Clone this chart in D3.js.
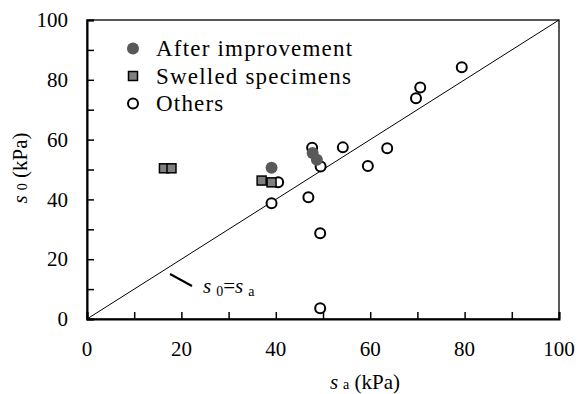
<!DOCTYPE html>
<html><head><meta charset="utf-8">
<script src="https://cdn.jsdelivr.net/npm/d3@7"></script>
<style>body{margin:0;background:#fff}svg{display:block}text{font-family:"Liberation Serif","Times New Roman",serif;fill:#000}</style>
</head><body><svg id="c" width="583" height="394"></svg>
<script>
const othersX = [47.7, 54.2, 49.5, 59.5, 63.6, 70.6, 69.7, 79.4, 46.9, 39.1, 40.5, 49.4, 49.4];
const othersY = [57.3, 57.4, 51.0, 51.2, 57.1, 77.4, 73.8, 84.2, 40.7, 38.7, 45.7, 28.7, 3.6];
const swelledX = [16.3, 17.9, 37.0, 39.1];
const swelledY = [50.4, 50.4, 46.3, 45.7];
const improvedX = [39.1, 47.8, 48.7];
const improvedY = [50.6, 55.5, 53.3];
const majorTicks = [0, 20, 40, 60, 80, 100];
const minorTicks = [10, 30, 50, 70, 90];
const legendLabels = ["After improvement", "Swelled specimens", "Others"];

const svg = d3.select("#c");
const x = d3.scaleLinear().domain([0, 100]).range([87, 559]);
const y = d3.scaleLinear().domain([0, 100]).range([319, 20]);
const FS = 21;

svg.append("rect").attr("x", x(0)).attr("y", y(100)).attr("width", x(100) - x(0)).attr("height", y(0) - y(100))
  .attr("fill", "none").attr("stroke", "#000").attr("stroke-width", 1.3);

const allTicks = majorTicks.concat(minorTicks);
const xAxis = svg.append("g").attr("transform", `translate(0,${y(0)})`)
  .call(d3.axisBottom(x).tickValues(allTicks).tickSize(-7).tickFormat(""));
const yAxis = svg.append("g").attr("transform", `translate(${x(0)},0)`)
  .call(d3.axisLeft(y).tickValues(allTicks).tickSize(-7).tickFormat(""));
[xAxis, yAxis].forEach(g => {
  g.select(".domain").attr("stroke", "#000").attr("stroke-width", 2);
  g.selectAll(".tick line").attr("stroke", "#000").attr("stroke-width", 1.5);
});
svg.append("g").selectAll("text").data(majorTicks).join("text")
  .attr("x", d => x(d)).attr("y", 356).attr("text-anchor", "middle")
  .attr("font-size", FS).text(d => d);
svg.append("g").selectAll("text").data(majorTicks).join("text")
  .attr("x", 68).attr("y", d => y(d)).attr("dy", "0.34em").attr("text-anchor", "end")
  .attr("font-size", FS).text(d => d);

const xt = svg.append("text").attr("x", 365).attr("y", 389).attr("text-anchor", "middle").attr("font-size", FS);
xt.append("tspan").attr("font-style", "italic").text("s");
xt.append("tspan").attr("font-size", 14).attr("dx", 5).text("a");
xt.append("tspan").text(" (kPa)");
const yt = svg.append("text").attr("transform", `translate(27,168) rotate(-90)`).attr("text-anchor", "middle").attr("font-size", FS);
yt.append("tspan").attr("font-style", "italic").text("s");
yt.append("tspan").attr("font-size", 14).attr("dx", 5).text("0");
yt.append("tspan").text(" (kPa)");

svg.append("line").attr("x1", x(0)).attr("y1", y(0)).attr("x2", x(100)).attr("y2", y(100))
  .attr("stroke", "#000").attr("stroke-width", 1);
svg.append("line").attr("x1", 170).attr("y1", 274).attr("x2", 192).attr("y2", 286)
  .attr("stroke", "#000").attr("stroke-width", 2);
const an = svg.append("text").attr("x", 203).attr("y", 293).attr("font-size", FS);
an.append("tspan").attr("font-style", "italic").text("s");
an.append("tspan").attr("font-size", 14).attr("dx", 5).attr("dy", 3).text("0");
an.append("tspan").attr("dy", -3).text("=");
an.append("tspan").attr("font-style", "italic").text("s");
an.append("tspan").attr("font-size", 14).attr("dx", 5).attr("dy", 3).text("a");

const others = othersX.map((v, i) => [v, othersY[i]]);
const swelled = swelledX.map((v, i) => [v, swelledY[i]]);
const improved = improvedX.map((v, i) => [v, improvedY[i]]);
svg.append("g").selectAll("circle").data(others).join("circle")
  .attr("cx", d => x(d[0])).attr("cy", d => y(d[1])).attr("r", 5)
  .attr("fill", "#fff").attr("stroke", "#000").attr("stroke-width", 2);
svg.append("g").selectAll("rect").data(swelled).join("rect")
  .attr("x", d => x(d[0]) - 4.5).attr("y", d => y(d[1]) - 4.5).attr("width", 9).attr("height", 9)
  .attr("fill", "#808080").attr("stroke", "#000").attr("stroke-width", 1.5);
svg.append("g").selectAll("circle").data(improved).join("circle")
  .attr("cx", d => x(d[0])).attr("cy", d => y(d[1])).attr("r", 6)
  .attr("fill", "#595959");

const ly = [48.5, 76, 103.5];
svg.append("circle").attr("cx", 133).attr("cy", ly[0]).attr("r", 6).attr("fill", "#595959");
svg.append("rect").attr("x", 128.5).attr("y", ly[1] - 4.5).attr("width", 9).attr("height", 9)
  .attr("fill", "#808080").attr("stroke", "#000").attr("stroke-width", 1.5);
svg.append("circle").attr("cx", 133).attr("cy", ly[2]).attr("r", 5)
  .attr("fill", "#fff").attr("stroke", "#000").attr("stroke-width", 2);
svg.append("g").selectAll("text").data(legendLabels).join("text")
  .attr("x", 156).attr("y", (d, i) => ly[i]).attr("dy", "0.34em").attr("font-size", 23)
  .attr("letter-spacing", 1.2).text(d => d);
</script></body></html>
